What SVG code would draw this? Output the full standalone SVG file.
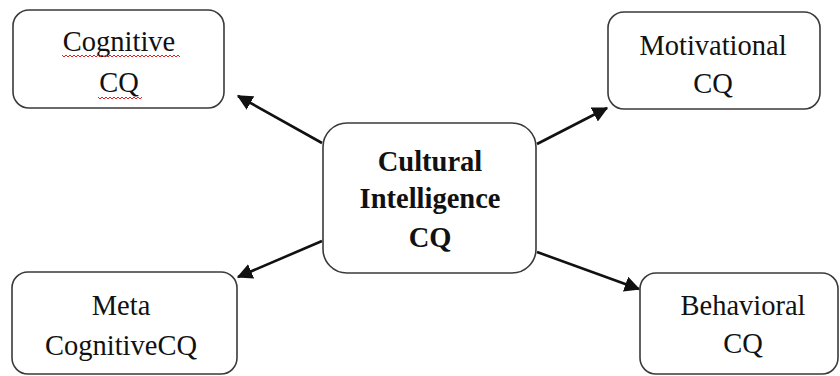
<svg xmlns="http://www.w3.org/2000/svg" width="840" height="376" viewBox="0 0 840 376">
<style>
.box{fill:#fff;stroke:#3a3a3a;stroke-width:1.6}
.t{font-family:"Liberation Serif","Times New Roman",serif;font-size:28.5px;fill:#111;text-anchor:middle}
.b{font-weight:bold}
.c{stroke:#111;stroke-width:2.6;fill:none}
.sq{stroke:#e02020;stroke-width:1;fill:none}
</style>
<defs>
<marker id="ah" markerWidth="6" markerHeight="6" refX="5.5" refY="3" orient="auto" markerUnits="strokeWidth" viewBox="0 0 6 6">
<path d="M0,0 L6,3 L0,6 z" fill="#111"/>
</marker>
</defs>
<rect width="840" height="376" fill="#fff"/>
<g id="connectors">
<line class="c" x1="322" y1="143" x2="238" y2="96" marker-end="url(#ah)"/>
<line class="c" x1="537" y1="144" x2="607" y2="108" marker-end="url(#ah)"/>
<line class="c" x1="322" y1="241" x2="238" y2="277" marker-end="url(#ah)"/>
<line class="c" x1="537" y1="252" x2="639" y2="289" marker-end="url(#ah)"/>
</g>
<g id="cognitive">
<rect class="box" x="13" y="10" width="211" height="98" rx="16"/>
<text class="t" x="119" y="51">Cognitive</text>
<text class="t" x="119" y="92">CQ</text>
<path class="sq" d="M62,55 l2,2 l2,-2 l2,2 l2,-2 l2,2 l2,-2 l2,2 l2,-2 l2,2 l2,-2 l2,2 l2,-2 l2,2 l2,-2 l2,2 l2,-2 l2,2 l2,-2 l2,2 l2,-2 l2,2 l2,-2 l2,2 l2,-2 l2,2 l2,-2 l2,2 l2,-2 l2,2 l2,-2 l2,2 l2,-2 l2,2 l2,-2 l2,2 l2,-2 l2,2 l2,-2 l2,2 l2,-2 l2,2 l2,-2 l2,2 l2,-2 l2,2 l2,-2 l2,2 l2,-2 l2,2 l2,-2 l2,2 l2,-2 l2,2 l2,-2 l2,2 l2,-2 l2,2 l2,-2 l2,2"/>
<path class="sq" d="M98,97 l2,2 l2,-2 l2,2 l2,-2 l2,2 l2,-2 l2,2 l2,-2 l2,2 l2,-2 l2,2 l2,-2 l2,2 l2,-2 l2,2 l2,-2 l2,2 l2,-2 l2,2 l2,-2 l2,2 l2,-2"/>
</g>
<g id="motivational">
<rect class="box" x="608" y="12" width="212" height="97" rx="16"/>
<text class="t" x="713" y="55">Motivational</text>
<text class="t" x="713" y="93">CQ</text>
</g>
<g id="center">
<rect class="box" x="323" y="123" width="213" height="150" rx="24"/>
<text class="t b" x="430" y="171">Cultural</text>
<text class="t b" x="430" y="208">Intelligence</text>
<text class="t b" x="430" y="247">CQ</text>
</g>
<g id="meta">
<rect class="box" x="12" y="272" width="225" height="102" rx="16"/>
<text class="t" x="121" y="315">Meta</text>
<text class="t" x="121" y="355">CognitiveCQ</text>
</g>
<g id="behavioral">
<rect class="box" x="640" y="273" width="198" height="101" rx="16"/>
<text class="t" x="743" y="315">Behavioral</text>
<text class="t" x="743" y="353">CQ</text>
</g>
</svg>
